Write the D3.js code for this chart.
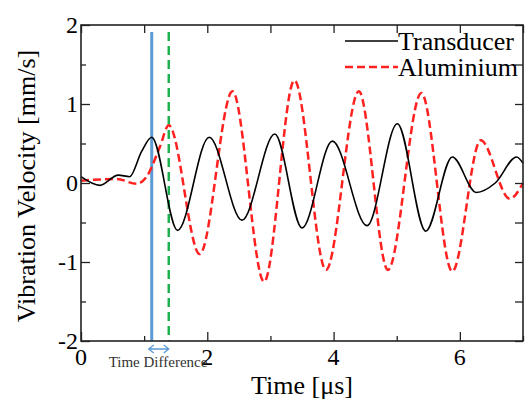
<!DOCTYPE html>
<html>
<head>
<meta charset="utf-8">
<script src="https://cdn.jsdelivr.net/npm/d3@7"></script>
<style>
  body { margin: 0; background: #fff; }
  svg { display: block; }
</style>
</head>
<body>
<div id="chart"></div>
<script>
// transducer signal, read at its turning points
let transducerT = [0, 0.3, 0.59, 0.77, 0.96, 1.12, 1.53, 2.03, 2.55, 3.07, 3.5, 3.98, 4.53, 5.01, 5.46, 5.88, 6.26, 6.56, 6.9, 7.0];
let transducerV = [0.08, -0.03, 0.1, 0.08, 0.4, 0.58, -0.6, 0.58, -0.47, 0.62, -0.57, 0.53, -0.54, 0.75, -0.61, 0.33, -0.12, 0.0, 0.33, 0.25];

// aluminium signal
let aluminiumT = [0, 0.57, 0.88, 1.04, 1.25, 1.39, 1.88, 2.4, 2.9, 3.38, 3.88, 4.4, 4.86, 5.39, 5.88, 6.33, 6.79, 7.0];
let aluminiumV = [0.03, 0.05, -0.01, 0.08, 0.46, 0.73, -0.9, 1.16, -1.25, 1.3, -1.1, 1.16, -1.1, 1.14, -1.12, 0.54, -0.2, 0.0];

let xTicks = [0, 1, 2, 3, 4, 5, 6, 7];
let xLabels = [0, 2, 4, 6];
let yTicks = [-2, -1.5, -1, -0.5, 0, 0.5, 1, 1.5, 2];
let yLabels = [-2, -1, 0, 1, 2];

let arrivalTransducer = 1.12;
let arrivalAluminium = 1.39;

let seriesNames = ["Transducer", "Aluminium"];

let width = 526, height = 403;
let plotLeft = 81, plotRight = 523, plotTop = 25, plotBottom = 341;
let font = "'Liberation Serif', 'Times New Roman', serif";

let svg = d3.select("#chart")
    .append("svg")
    .attr("width", width)
    .attr("height", height);

let xScale = d3.scaleLinear().domain([0, 7]).range([plotLeft, plotRight]);
let yScale = d3.scaleLinear().domain([-2, 2]).range([plotBottom, plotTop]);

let transducer = transducerT.map((t, i) => [t, transducerV[i]]);
let aluminium = aluminiumT.map((t, i) => [t, aluminiumV[i]]);

let line = d3.line()
    .x(d => xScale(d[0]))
    .y(d => yScale(d[1]))
    .curve(d3.curveMonotoneX);

// arrival markers
svg.append("line")
    .attr("x1", xScale(arrivalTransducer))
    .attr("x2", xScale(arrivalTransducer))
    .attr("y1", yScale(1.91))
    .attr("y2", plotBottom)
    .style("stroke", "#5b9bd5")
    .style("stroke-width", 3);

svg.append("line")
    .attr("x1", xScale(arrivalAluminium))
    .attr("x2", xScale(arrivalAluminium))
    .attr("y1", yScale(1.91))
    .attr("y2", plotBottom)
    .style("stroke", "#1fb04f")
    .style("stroke-width", 2.5)
    .style("stroke-dasharray", "9,5");

svg.append("path")
    .datum(aluminium)
    .attr("d", line)
    .style("fill", "none")
    .style("stroke", "#ff2020")
    .style("stroke-width", 2.5)
    .style("stroke-dasharray", "8,4");

svg.append("path")
    .datum(transducer)
    .attr("d", line)
    .style("fill", "none")
    .style("stroke", "#000")
    .style("stroke-width", 1.6);

// frame with inward ticks on all sides
let gb = svg.append("g").attr("transform", "translate(0," + plotBottom + ")");
gb.call(d3.axisTop(xScale).tickValues(xTicks).tickSize(0).tickFormat(""));
gb.selectAll(".tick line").remove();
gb.selectAll(".tick").append("line")
    .attr("y2", d => xLabels.includes(d) ? -9 : -5);

let gt = svg.append("g").attr("transform", "translate(0," + plotTop + ")");
gt.call(d3.axisBottom(xScale).tickValues(xTicks).tickSize(8).tickFormat(""));

let gl = svg.append("g").attr("transform", "translate(" + plotLeft + ",0)");
gl.call(d3.axisRight(yScale).tickValues(yTicks).tickSize(0).tickFormat(""));
gl.selectAll(".tick line").remove();
gl.selectAll(".tick").append("line")
    .attr("x2", d => yLabels.includes(d) ? 9 : 5);

let gr = svg.append("g").attr("transform", "translate(" + plotRight + ",0)");
gr.call(d3.axisLeft(yScale).tickValues(yTicks).tickSize(8).tickFormat(""));

svg.selectAll(".domain").remove();
svg.selectAll(".tick line").style("stroke", "#222").style("stroke-width", 1.3);

svg.append("rect")
    .attr("x", plotLeft).attr("y", plotTop)
    .attr("width", plotRight - plotLeft).attr("height", plotBottom - plotTop)
    .style("fill", "none")
    .style("stroke", "#222")
    .style("stroke-width", 1.6);

// tick labels
svg.selectAll(".xlab")
    .data(xLabels)
    .enter()
    .append("text")
    .attr("x", d => xScale(d))
    .attr("y", plotBottom + 24)
    .attr("text-anchor", "middle")
    .style("font", "24px " + font)
    .text(d => d);

svg.selectAll(".ylab")
    .data(yLabels)
    .enter()
    .append("text")
    .attr("x", plotLeft - 3)
    .attr("y", d => yScale(d) + 8)
    .attr("text-anchor", "end")
    .style("font", "24px " + font)
    .text(d => d);

// axis titles
svg.append("text")
    .attr("x", 302)
    .attr("y", 394)
    .attr("text-anchor", "middle")
    .style("font", "26px " + font)
    .text("Time [\u03bcs]");

svg.append("text")
    .attr("transform", "translate(35,186) rotate(-90)")
    .attr("text-anchor", "middle")
    .style("font", "26px " + font)
    .text("Vibration Velocity [mm/s]");

// time difference annotation
let ax1 = xScale(arrivalTransducer) - 3, ax2 = xScale(arrivalAluminium), ay = 349;
svg.append("path")
    .attr("d", "M" + ax1 + "," + ay + "H" + ax2 +
        "M" + (ax1 + 5) + "," + (ay - 4) + "L" + ax1 + "," + ay + "L" + (ax1 + 5) + "," + (ay + 4) +
        "M" + (ax2 - 5) + "," + (ay - 4) + "L" + ax2 + "," + ay + "L" + (ax2 - 5) + "," + (ay + 4))
    .style("fill", "none")
    .style("stroke", "#5b9bd5")
    .style("stroke-width", 1.3);

svg.append("text")
    .attr("x", 158)
    .attr("y", 367)
    .attr("text-anchor", "middle")
    .style("font", "15px " + font)
    .style("fill", "#333")
    .text("Time Difference");

// legend
let legend = svg.append("g");
let legendStyles = [
    { stroke: "#000", width: 1.6, dash: null },
    { stroke: "#ff2020", width: 2.5, dash: "8,4" }
];
seriesNames.forEach((name, i) => {
    let ly = 41 + i * 26;
    legend.append("line")
        .attr("x1", 345).attr("x2", 398)
        .attr("y1", ly).attr("y2", ly)
        .style("stroke", legendStyles[i].stroke)
        .style("stroke-width", legendStyles[i].width)
        .style("stroke-dasharray", legendStyles[i].dash);
    legend.append("text")
        .attr("x", 398)
        .attr("y", ly + 9)
        .style("font", "26px " + font)
        .text(name);
});
</script>
</body>
</html>
